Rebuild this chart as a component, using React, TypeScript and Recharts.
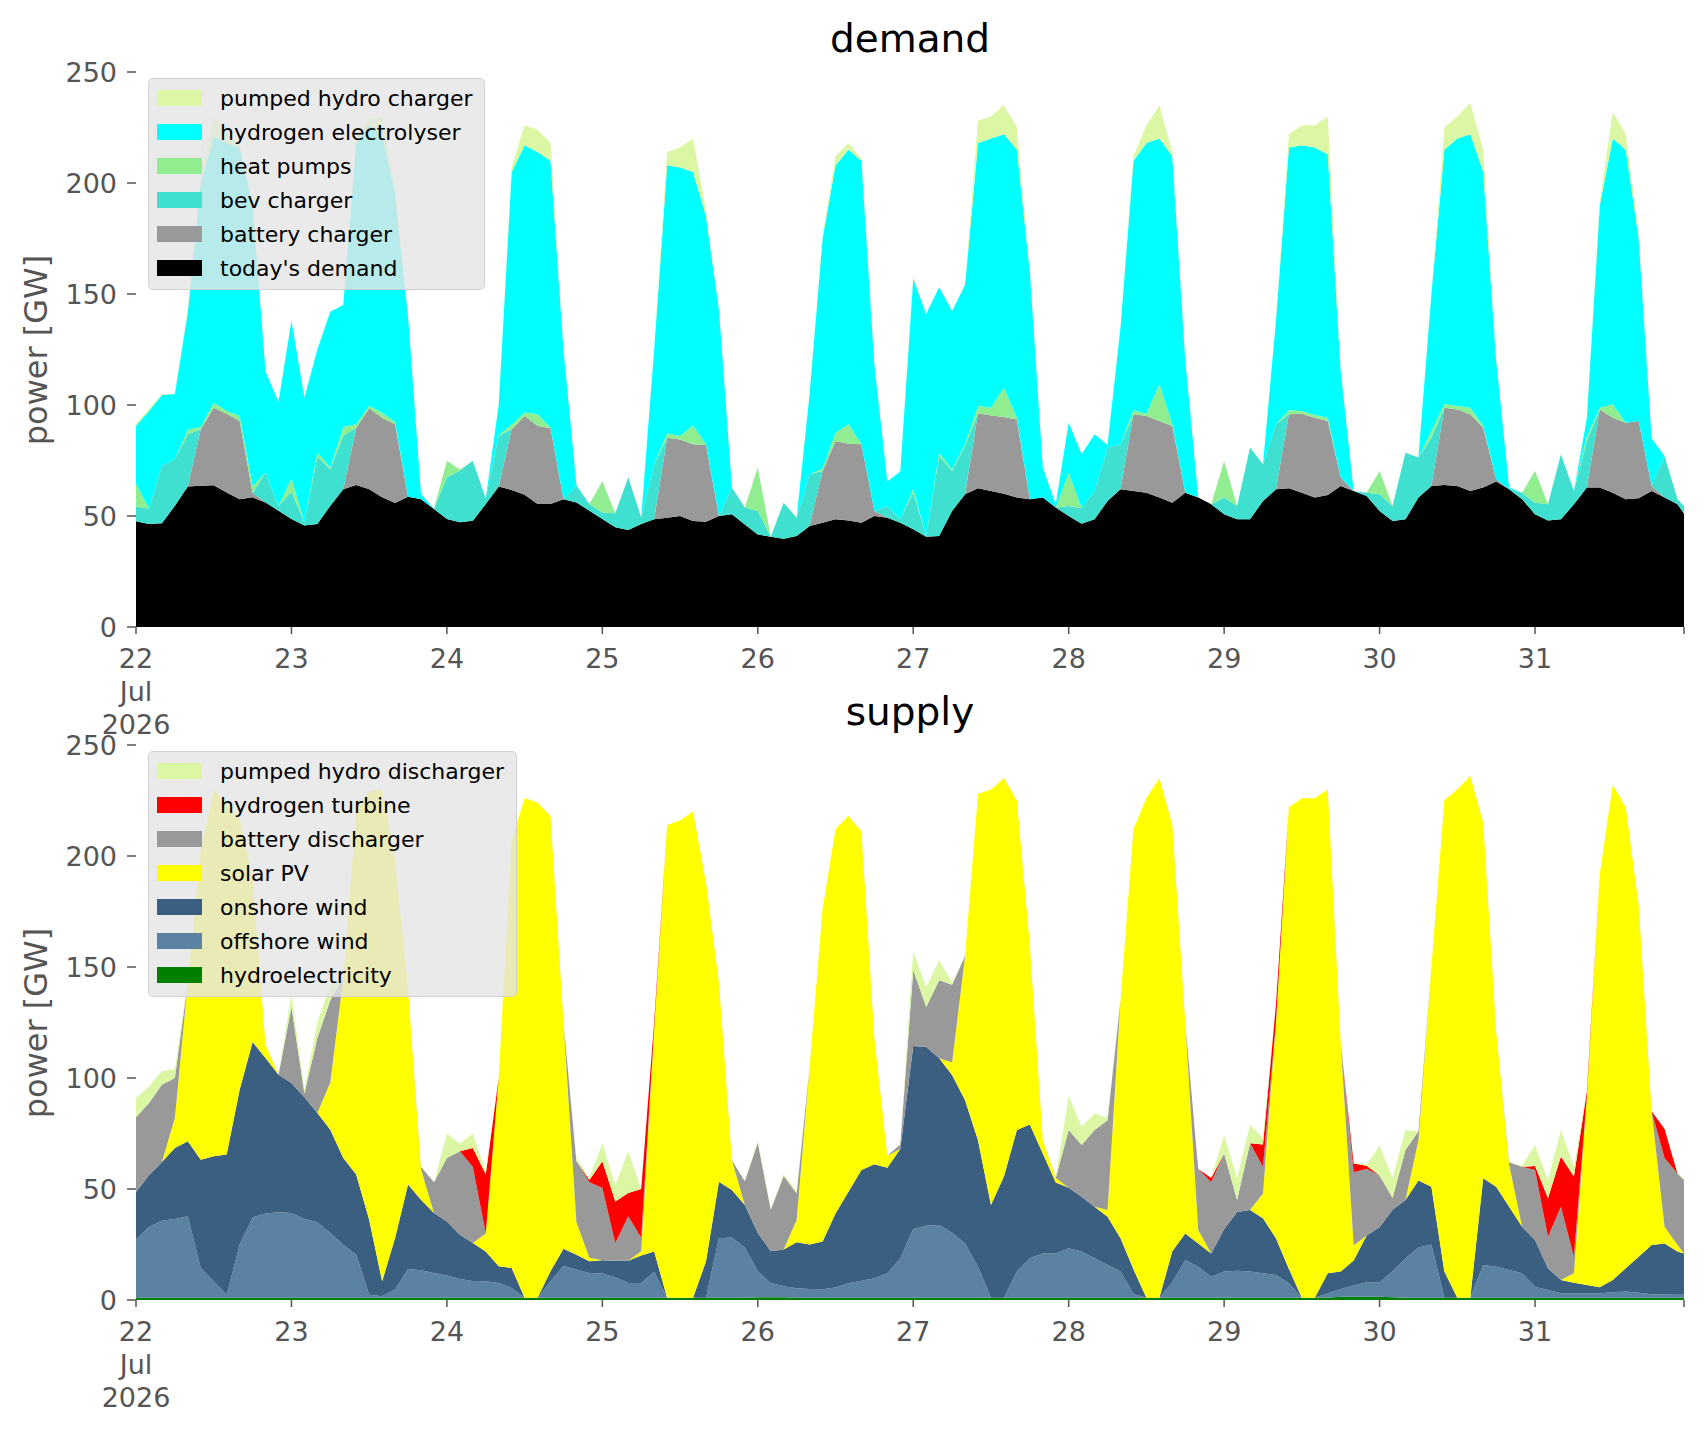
import React from "react";
import { Area, AreaChart, XAxis, YAxis } from "recharts";

// hours since 22 Jul 2026 00:00: 2-hourly samples plus the last hour (31 Jul 23:00)
const HOURS = [...Array.from({ length: 120 }, (_, i) => i * 2), 239];
const DAY_TICKS = [0, 24, 48, 72, 96, 120, 144, 168, 192, 216];
const DAY_LABELS = ["22", "23", "24", "25", "26", "27", "28", "29", "30", "31"];
const END_TICK = 239;
const Y_TICKS = [0, 50, 100, 150, 200, 250];

// ---- demand [GW], one row per day, last value = 31 Jul 23:00 ----
const todaysDemand = [
  47.6, 46.4, 46.7, 54.6, 63.3, 63.6, 63.9, 60.6, 57.6, 58.4, 56.1, 52.4,
  48.7, 45.7, 46.4, 54.6, 62.1, 64.0, 62.1, 58.4, 55.8, 58.7, 57.6, 53.1,
  48.7, 47.2, 47.9, 55.4, 63.3, 61.7, 59.6, 55.4, 55.4, 57.6, 56.1, 52.4,
  48.7, 44.9, 43.7, 46.4, 48.5, 49.2, 50.0, 47.7, 47.4, 50.0, 50.8, 46.2,
  41.7, 40.7, 39.8, 41.0, 45.5, 47.0, 48.5, 48.0, 47.0, 50.0, 49.2, 47.0,
  44.0, 40.7, 41.0, 52.3, 59.8, 62.5, 61.3, 60.0, 58.3, 57.5, 58.3, 53.8,
  50.0, 46.5, 48.5, 56.8, 62.0, 61.3, 60.5, 58.3, 56.0, 60.5, 58.3, 55.3,
  50.8, 48.5, 48.5, 56.8, 62.0, 62.5, 60.5, 58.3, 59.5, 63.5, 61.3, 59.0,
  52.3, 47.7, 48.5, 58.3, 63.5, 64.0, 63.5, 61.3, 62.8, 65.5, 62.0, 57.5,
  50.8, 48.0, 48.5, 55.3, 62.8, 62.8, 60.5, 57.5, 58.0, 61.3, 58.3, 55.3,
  51.0,
];
const batteryCharger = [
  0, 0, 0, 0, 0, 25.5, 34.9, 35.5, 35.2, 2.0, 0, 0,
  0, 0, 0, 0, 0, 25.8, 36.4, 35.9, 35.5, 0, 0, 0,
  0, 0, 0, 0, 0, 27.4, 35.5, 35.2, 34.1, 0, 0, 0,
  0, 0, 0, 0, 0, 36.1, 34.5, 34.6, 34.6, 0, 0, 0,
  0, 0, 0, 0, 0, 23.3, 35.3, 34.6, 35.3, 2.3, 0, 0,
  0, 0, 0, 0, 0, 33.8, 34.0, 34.6, 35.2, 0, 0, 0,
  0, 0, 0, 0, 0, 34.5, 34.5, 34.5, 34.5, 0, 0, 0,
  0, 0, 0, 0, 0, 33.3, 35.6, 36.0, 33.3, 3.8, 0, 0,
  0, 0, 0, 0, 0, 34.8, 34.5, 34.5, 27.0, 1.0, 0, 0,
  0, 0, 0, 0, 0, 35.2, 33.8, 34.5, 34.8, 2.2, 0, 0,
  0,
];
const bevCharger = [
  6.6, 7.0, 25.9, 21.0, 23.5, 0, 0, 0, 0, 0, 13.5, 2.0,
  12.3, 1.3, 30.2, 16.5, 24.0, 0, 0, 0, 0, 0, 0, 0,
  18.7, 23.2, 27.0, 2.5, 22.8, 0, 0, 0, 0, 0, 7.5, 3.0,
  2.9, 6.3, 23.7, 3.0, 24.8, 0, 0, 0, 0, 0, 12.0, 7.6,
  10.6, 0, 16.2, 8.2, 23.3, 0, 0, 0, 0, 0, 5.3, 1.5,
  16.5, 0.3, 36.0, 18.0, 21.7, 0, 0, 0, 0, 0, 0, 0,
  4.5, 7.0, 12.8, 24.0, 20.3, 0, 0, 0, 0, 0, 0, 0,
  7.5, 6.0, 32.3, 16.5, 29.3, 0, 0, 0, 0, 0, 0, 1.5,
  7.5, 6.8, 30.0, 18.0, 21.8, 0, 0, 0, 0, 0, 0, 3.0,
  5.2, 7.3, 29.3, 6.0, 21.0, 0, 0, 0, 0, 0, 18.7, 2.2,
  3.5,
];
const heatPumps = [
  10.2, 0, 0, 0, 2.0, 1.0, 2.2, 1.2, 2.2, 3.0, 0, 0,
  6.0, 0, 2.0, 0.8, 4.0, 1.5, 1.1, 2.2, 1.0, 0, 0, 0,
  7.5, 0.5, 0, 0, 0.4, 2.0, 1.5, 5.2, 0.3, 0, 0, 0,
  14.0, 0, 0, 0, 0, 1.9, 1.5, 8.5, 0.3, 0, 0, 0,
  19.5, 0, 0, 0, 0, 1.0, 3.7, 8.7, 0, 0, 0, 0,
  1.5, 0, 1.5, 0.7, 0.8, 3.2, 3.5, 13.2, 0.8, 0, 0, 0,
  15.0, 0, 0, 0, 0, 1.8, 1.1, 16.5, 0.8, 0, 0, 0,
  16.5, 0, 0, 0, 0, 1.8, 1.2, 1.2, 1.5, 0, 0, 0,
  10.5, 0, 0, 0, 3.0, 1.5, 1.5, 3.0, 0.7, 0, 0, 0,
  14.3, 0, 0, 0, 2.2, 0.8, 6.0, 0, 0, 0, 0, 0,
  0,
];
const electrolyser = [
  26.2, 43.9, 31.9, 29.4, 53.2, 109.9, 120.0, 120.7, 121.0, 126.6, 45.4, 47.1,
  71.0, 56.3, 46.4, 70.1, 54.9, 126.7, 126.4, 125.5, 102.7, 81.3, 2.4, 0,
  0, 0, 0, 0, 13.5, 113.9, 120.4, 118.2, 120.2, 67.4, 0.4, 0,
  0, 0, 0, 0, 51.7, 120.8, 121.0, 114.2, 102.7, 93.0, 0, 0,
  0, 0, 0, 0, 36.2, 103.7, 120.5, 123.7, 127.7, 65.7, 11.0, 21.5,
  95.0, 100.0, 74.5, 71.3, 71.7, 118.5, 121.2, 114.2, 120.7, 102.5, 13.5, 1.5,
  22.5, 24.3, 25.5, 1.2, 52.7, 112.4, 121.9, 110.7, 120.7, 59.5, 0, 0,
  0, 0, 0, 0, 46.7, 118.4, 119.7, 120.5, 118.7, 47.7, 0, 0,
  0, 0, 0, 0, 61.7, 114.7, 120.5, 123.2, 114.5, 53.5, 0.8, 0,
  0, 0, 0, 0, 8.0, 91.2, 119.7, 123.0, 82.2, 21.5, 0, 0,
  0,
];
const pumpedCharger = [
  1, 1, 0.5, 0, 1, 2, 9, 5, 1, 0, 0, 0,
  0, 0, 0, 0, 0, 2, 3, 8, 3, 0, 0, 0,
  0, 0, 0, 0, 0, 2, 9, 10, 8, 0, 0, 0,
  0, 0, 0, 0, 0, 6, 9, 15, 3, 0, 0, 0,
  0, 0, 0, 0, 0, 1, 4, 3, 1, 0, 0, 0,
  1, 0, 0, 0, 0, 10, 10, 13, 10, 0, 0, 0,
  0, 0, 0, 0, 0, 2, 8, 15, 2, 0, 0, 0,
  0, 0, 0, 0, 0, 6, 9, 10, 17, 0, 0, 0,
  0, 0, 0, 0, 0, 10, 10, 14, 10, 0, 0, 0,
  0, 0, 0, 0, 0, 2, 12, 7, 3, 0, 0, 0,
  0,
];

// ---- supply [GW] ----
const hydro = [
  1, 1, 1, 1, 1, 1, 1, 1, 1, 1, 1, 1,
  1, 1, 1, 1, 1, 1, 1, 1, 1, 1, 1, 1,
  1, 1, 1, 1, 1, 1, 1, 1, 1, 1, 1, 1,
  1, 1, 1, 1, 1, 1, 1, 1, 1, 1, 1, 1,
  1.2, 1.2, 1.2, 1, 1, 1, 1, 1, 1, 1, 1, 1,
  1, 1, 1, 1, 1, 1, 1, 1, 1, 1, 1, 1,
  1, 1, 1, 1, 1, 1, 1, 1, 1, 1, 1, 1,
  1, 1, 1, 1, 1, 1, 1, 1, 1, 1.5, 1.5, 1.5,
  1.5, 1.2, 1, 1, 1, 1, 1, 1, 1, 1, 1, 1,
  1, 1, 1, 1, 1, 1, 1, 1, 1, 1, 1, 1,
  1,
];
const offshoreWind = [
  26.2, 31.9, 34.7, 35.5, 36.7, 13.4, 7.4, 1.3, 23.9, 36.2, 38.0, 38.5,
  38.2, 35.6, 34.0, 29.2, 23.9, 19.4, 1.4, 0.7, 3.7, 13.0, 12.4, 11.2,
  10.0, 8.5, 7.6, 7.4, 6.7, 4.4, 0, 0, 7.4, 14.3, 12.7, 11.2,
  10.9, 9.2, 6.7, 6.7, 11.7, 0, 0, 0, 0, 26.8, 27.1, 22.7,
  11.8, 6.5, 5.0, 4.3, 4.0, 3.8, 4.6, 6.5, 7.7, 8.8, 11.0, 17.8,
  31.0, 32.5, 32.8, 29.3, 24.5, 14.0, 0, 0, 11.8, 17.8, 20.0, 20.0,
  22.3, 20.8, 17.8, 14.8, 11.8, 1.7, 0, 0, 7.0, 17.0, 14.0, 9.5,
  11.8, 12.2, 11.8, 11.0, 10.3, 6.5, 0, 0, 2.0, 3.5, 5.0, 6.5,
  6.5, 11.8, 17.8, 22.7, 24.0, 0, 0, 0, 14.8, 14.0, 12.5, 11.0,
  5.0, 3.5, 2.0, 2.0, 2.0, 2.0, 2.5, 2.8, 2.3, 1.6, 1.6, 1.7,
  1.7,
];
const onshoreWind = [
  21.4, 23.3, 26.5, 32.0, 33.8, 48.8, 56.3, 63.2, 69.8, 79.0, 70.0, 62.0,
  58.5, 54.7, 49.2, 46.5, 39.1, 36.1, 33.8, 6.7, 23.2, 38.0, 31.8, 27.0,
  24.4, 19.9, 17.1, 13.5, 7.5, 9.0, 0, 0, 4.5, 7.8, 6.7, 5.2,
  6.0, 7.5, 10.0, 12.4, 9.2, 0, 0, 0, 16.3, 25.5, 21.4, 19.1,
  17.2, 14.3, 16.5, 20.7, 20.0, 21.5, 33.4, 41.3, 49.9, 51.3, 47.6, 49.2,
  82.4, 80.5, 75.1, 71.1, 64.5, 57.0, 41.8, 54.6, 63.8, 60.3, 45.0, 31.9,
  27.3, 24.7, 23.2, 21.7, 15.0, 11.1, 0, 0, 14.0, 12.0, 10.5, 10.5,
  19.2, 26.4, 27.7, 24.8, 16.5, 6.5, 0, 0, 9.0, 7.8, 11.3, 21.0,
  24.8, 27.7, 26.2, 30.1, 26.0, 11.8, 0, 0, 39.0, 36.0, 28.5, 21.0,
  21.0, 9.8, 6.0, 4.8, 3.8, 2.7, 5.5, 10.5, 16.2, 22.2, 22.9, 19.1,
  18.3,
];
const solarPV = [
  0, 0, 0, 13.5, 71.5, 138.8, 165.3, 157.5, 122.3, 73.8, 6.0, 0,
  0, 0, 0, 21.3, 81.0, 163.5, 192.8, 221.6, 170.1, 88.0, 13.8, 0,
  0, 0, 0, 8.1, 84.8, 192.6, 225.1, 223.0, 205.1, 101.9, 14.6, 1.6,
  0, 0, 0, 1.9, 100.1, 213.0, 215.0, 219.0, 170.7, 89.7, 13.5, 0,
  0, 0, 0, 10.0, 80.0, 149.7, 173.0, 169.2, 152.4, 56.9, 5.4, 0,
  0, 0, 0, 5.6, 65.0, 156.0, 187.2, 179.4, 148.4, 80.9, 6.0, 2.1,
  0, 0, 0, 3.0, 107.2, 198.2, 225.0, 234.0, 192.0, 95.0, 6.0, 0,
  0, 0, 0, 11.2, 97.2, 208.0, 225.0, 225.0, 218.0, 102.7, 6.7, 0,
  0, 0, 0, 18.2, 99.0, 212.2, 229.0, 235.0, 160.2, 70.0, 19.0, 0,
  0, 0, 0, 4.2, 84.8, 186.3, 223.0, 207.7, 158.5, 60.2, 7.5, 3.0,
  0,
];
const batteryDischarger = [
  33.7, 32.5, 34.8, 18.0, 0, 0, 0, 0, 0, 0, 0, 0,
  34.3, 1.7, 33.8, 37.0, 0, 0, 0, 0, 0, 0, 1.0, 13.8,
  28.6, 37.6, 34.3, 0, 0, 0, 0, 0, 0, 0, 27.5, 34.0,
  32.6, 8.0, 20.0, 6.0, 0, 0, 0, 0, 0, 0, 0, 10.7,
  40.6, 18.7, 33.1, 12.0, 0, 0, 0, 0, 0, 0, 0, 2.0,
  34.2, 18.0, 35.1, 35.0, 0, 0, 0, 0, 0, 0, 0, 0,
  26.0, 23.3, 34.6, 40.5, 0, 0, 0, 0, 0, 0, 27.5, 32.0,
  34.0, 5.4, 30.1, 12.0, 0, 0, 0, 0, 0, 0, 33.0, 30.1,
  23.3, 5.3, 22.6, 4.0, 0, 0, 0, 0, 0, 0, 1.0, 27.0,
  31.6, 14.2, 33.0, 7.5, 0, 0, 0, 0, 0, 0, 31.0, 32.2,
  33.0,
];
const hydrogenTurbine = [
  0, 0, 0, 0, 0, 0, 0, 0, 0, 0, 0, 0,
  0, 0, 0, 0, 0, 0, 0, 0, 0, 0, 0, 0,
  0, 0, 8.5, 26.5, 0, 0, 0, 0, 0, 0, 0, 1.0,
  12.0, 18.7, 10.5, 22.0, 3.0, 0, 0, 0, 0, 0, 0, 0,
  0, 0, 0, 0, 0, 0, 0, 0, 0, 0, 0, 0,
  0, 0, 0, 0, 0, 0, 0, 0, 0, 0, 0, 0,
  0, 0, 0, 0, 0, 0, 0, 0, 0, 0, 0, 2.0,
  0, 0, 0, 10.0, 8.0, 0, 0, 0, 0, 0, 4.0, 1.4,
  0, 0, 0, 0, 0, 0, 0, 0, 0, 0, 0, 0,
  1.8, 17.3, 22.6, 36.1, 2.2, 0, 0, 0, 0, 0, 13.0, 0,
  0,
];
const pumpedDischarger = [
  8.7, 7.5, 6.0, 4.0, 0, 0, 0, 0, 0, 0, 0, 0,
  6.0, 2.0, 7.0, 7.0, 0, 0, 0, 0, 0, 0, 0, 0,
  11.0, 3.5, 6.5, 1.5, 0, 0, 0, 0, 0, 0, 1.5, 1.0,
  8.2, 7.3, 18.8, 0, 0, 0, 0, 0, 0, 0, 0, 0.3,
  0.9, 0.5, 0.9, 1.0, 0, 0, 0, 0, 0, 0, 0, 0,
  8.4, 9.0, 9.0, 1.0, 0, 0, 0, 0, 0, 0, 0, 0,
  15.4, 8.2, 7.4, 1.0, 0, 0, 0, 0, 0, 0, 0, 0,
  8.3, 9.8, 8.2, 3.0, 0, 0, 0, 0, 0, 0, 0.3, 0.5,
  13.4, 9.0, 9.0, 0, 0, 0, 0, 0, 0, 0, 0, 0.5,
  9.4, 8.2, 12.0, 4.4, 0.2, 0, 0, 0, 0, 0, 0, 0.5,
  0.5,
];

// stacking order: first entry sits at the bottom
const DEMAND_SERIES = [
  { key: "todaysDemand", name: "today's demand", color: "#000000", values: todaysDemand },
  { key: "batteryCharger", name: "battery charger", color: "#999999", values: batteryCharger },
  { key: "bevCharger", name: "bev charger", color: "#40e0d0", values: bevCharger },
  { key: "heatPumps", name: "heat pumps", color: "#90ee90", values: heatPumps },
  { key: "electrolyser", name: "hydrogen electrolyser", color: "#00ffff", values: electrolyser },
  { key: "pumpedCharger", name: "pumped hydro charger", color: "#dbf7a4", values: pumpedCharger },
];
const SUPPLY_SERIES = [
  { key: "hydro", name: "hydroelectricity", color: "#008000", values: hydro },
  { key: "offshoreWind", name: "offshore wind", color: "#5b81a3", values: offshoreWind },
  { key: "onshoreWind", name: "onshore wind", color: "#3b5f80", values: onshoreWind },
  { key: "solarPV", name: "solar PV", color: "#ffff00", values: solarPV },
  { key: "batteryDischarger", name: "battery discharger", color: "#999999", values: batteryDischarger },
  { key: "hydrogenTurbine", name: "hydrogen turbine", color: "#ff0000", values: hydrogenTurbine },
  { key: "pumpedDischarger", name: "pumped hydro discharger", color: "#dbf7a4", values: pumpedDischarger },
];

const W = 1706;
const H = 747;
const FONT = "'DejaVu Sans', Verdana, sans-serif";
const GREY = "#555555";

function DayTick({ x, y, payload }: any) {
  const i = DAY_TICKS.indexOf(payload.value);
  if (i < 0) return <g />;
  const lines = i === 0 ? [DAY_LABELS[0], "Jul", "2026"] : [DAY_LABELS[i]];
  return (
    <text x={x} y={y} textAnchor="middle" fill={GREY} fontSize={27} fontFamily={FONT}>
      {lines.map((t, k) => (
        <tspan key={k} x={x} dy={k === 0 ? 32 : 33}>
          {t}
        </tspan>
      ))}
    </text>
  );
}

function Panel({ top, title, series }: { top: number; title: string; series: typeof DEMAND_SERIES }) {
  const rows = HOURS.map((h, i) => {
    const row: Record<string, number> = { h };
    series.forEach((s) => (row[s.key] = s.values[i]));
    return row;
  });

  return (
    <div style={{ position: "absolute", left: 0, top, width: W, height: H }}>
      <AreaChart width={W} height={H} data={rows} margin={{ top: 72, right: 22, bottom: 0, left: 56 }}>
        <XAxis
          dataKey="h"
          type="number"
          domain={[0, END_TICK]}
          ticks={[...DAY_TICKS, END_TICK]}
          interval={0}
          height={120}
          axisLine={false}
          tickSize={7}
          tickMargin={2}
          tickLine={{ stroke: GREY, strokeWidth: 1.5 }}
          tick={(p: any) => <DayTick {...p} />}
        />
        <YAxis
          domain={[0, 250]}
          ticks={Y_TICKS}
          interval={0}
          width={80}
          axisLine={false}
          tickSize={9}
          tickMargin={10}
          tickLine={{ stroke: GREY, strokeWidth: 1.5 }}
          tick={{ fill: GREY, fontSize: 27, fontFamily: FONT }}
        />
        {series.map((s) => (
          <Area
            key={s.key}
            type="linear"
            dataKey={s.key}
            name={s.name}
            stackId="stack"
            fill={s.color}
            fillOpacity={1}
            stroke="none"
            dot={false}
            activeDot={false}
            isAnimationActive={false}
          />
        ))}
      </AreaChart>

      <svg width={W} height={H} style={{ position: "absolute", left: 0, top: 0, pointerEvents: "none" }}>
        <text x={910} y={52} textAnchor="middle" fontSize={39} fontFamily={FONT} fill="#000">
          {title}
        </text>
        <text
          x={36}
          y={350}
          textAnchor="middle"
          dominantBaseline="central"
          fontSize={32}
          fontFamily={FONT}
          fill={GREY}
          transform="rotate(-90 36 350)"
        >
          power [GW]
        </text>
      </svg>

      <div
        style={{
          position: "absolute",
          left: 148,
          top: 78,
          background: "rgba(229,229,229,0.8)",
          border: "1px solid rgba(204,204,204,0.8)",
          borderRadius: 5,
          padding: "2px 12px 4px 8px",
          fontFamily: FONT,
          fontSize: 22,
          color: "#000",
        }}
      >
        {[...series].reverse().map((s) => (
          <div key={s.key} style={{ display: "flex", alignItems: "center", height: 34, whiteSpace: "nowrap" }}>
            <span style={{ display: "inline-block", width: 45, height: 16, background: s.color, marginRight: 18 }} />
            <span>{s.name}</span>
          </div>
        ))}
      </div>
    </div>
  );
}

export default function App() {
  return (
    <div style={{ position: "absolute", left: 0, top: 0, width: W, height: 1431, background: "#fff" }}>
      <Panel top={0} title="demand" series={DEMAND_SERIES} />
      <Panel top={673} title="supply" series={SUPPLY_SERIES} />
    </div>
  );
}
